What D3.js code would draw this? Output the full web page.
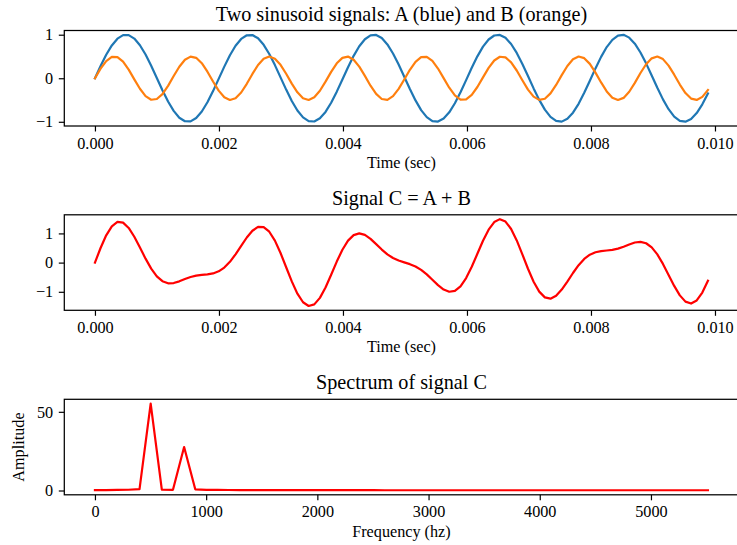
<!DOCTYPE html>
<html>
<head>
<meta charset="utf-8">
<script src="https://cdn.jsdelivr.net/npm/d3@7"></script>
<style>
  html, body { margin: 0; padding: 0; background: #fff; }
  svg { display: block; }
  text { font-family: "Liberation Serif", "Times New Roman", serif; fill: #000; }
</style>
</head>
<body>
<svg id="chart" width="737" height="545"></svg>
<script>
// Sampling: 110 samples at 11025 Hz
const sampleRate = 11025;

// Signal A: 500 Hz sinusoid, amplitude 1
const signalA = [
  0.000, 0.281, 0.540, 0.754, 0.909, 0.989, 0.990, 0.911, 0.759, 0.546,
  0.288, 0.007, -0.274, -0.534, -0.750, -0.906, -0.988, -0.991, -0.914, -0.764,
  -0.552, -0.295, -0.014, 0.267, 0.527, 0.745, 0.903, 0.987, 0.992, 0.917,
  0.768, 0.558, 0.302, 0.021, -0.261, -0.521, -0.741, -0.899, -0.986, -0.993,
  -0.920, -0.773, -0.563, -0.308, -0.028, 0.254, 0.515, 0.735, 0.896, 0.985,
  0.994, 0.923, 0.777, 0.569, 0.315, 0.036, -0.247, -0.509, -0.731, -0.893,
  -0.984, -0.995, -0.926, -0.782, -0.575, -0.322, -0.043, 0.240, 0.503, 0.726,
  0.890, 0.982, 0.995, 0.928, 0.786, 0.581, 0.329, 0.050, -0.233, -0.497,
  -0.721, -0.887, -0.981, -0.996, -0.931, -0.791, -0.587, -0.335, -0.057, 0.226,
  0.491, 0.716, 0.883, 0.979, 0.997, 0.933, 0.795, 0.592, 0.342, 0.064,
  -0.219, -0.485, -0.711, -0.880, -0.978, -0.997, -0.936, -0.799, -0.598, -0.349
];

// Signal B: 800 Hz sinusoid, amplitude 0.5
const signalB = [
  0.000, 0.220, 0.395, 0.490, 0.484, 0.380, 0.197, -0.025, -0.242, -0.410,
  -0.494, -0.477, -0.363, -0.174, 0.050, 0.264, 0.424, 0.497, 0.469, 0.345,
  0.151, -0.075, -0.285, -0.437, -0.499, -0.460, -0.327, -0.127, 0.099, 0.305,
  0.448, 0.500, 0.450, 0.308, 0.103, -0.123, -0.324, -0.459, -0.499, -0.438,
  -0.288, -0.078, 0.147, 0.343, 0.468, 0.498, 0.426, 0.267, 0.053, -0.171,
  -0.360, -0.476, -0.495, -0.412, -0.245, -0.028, 0.194, 0.377, 0.483, 0.490,
  0.397, 0.223, 0.004, -0.217, -0.393, -0.489, -0.485, -0.382, -0.201, 0.021,
  0.239, 0.408, 0.494, 0.478, 0.365, 0.178, -0.046, -0.261, -0.422, -0.497,
  -0.470, -0.348, -0.154, 0.071, 0.282, 0.435, 0.499, 0.461, 0.330, 0.130,
  -0.096, -0.302, -0.447, -0.500, -0.451, -0.310, -0.106, 0.120, 0.321, 0.457,
  0.500, 0.440, 0.290, 0.082, -0.144, -0.340, -0.467, -0.498, -0.428, -0.270
];

// Signal C: sum of A and B
const signalC = [
  0.000, 0.501, 0.935, 1.244, 1.393, 1.369, 1.187, 0.886, 0.517, 0.136,
  -0.206, -0.470, -0.637, -0.708, -0.700, -0.642, -0.564, -0.494, -0.445, -0.419,
  -0.401, -0.370, -0.299, -0.170, 0.028, 0.285, 0.576, 0.860, 1.091, 1.222,
  1.216, 1.058, 0.752, 0.329, -0.158, -0.644, -1.065, -1.358, -1.485, -1.431,
  -1.208, -0.851, -0.416, 0.035, 0.440, 0.752, 0.941, 1.002, 0.949, 0.814,
  0.634, 0.447, 0.282, 0.157, 0.070, 0.008, -0.053, -0.132, -0.248, -0.403,
  -0.587, -0.772, -0.922, -0.999, -0.968, -0.811, -0.528, -0.142, 0.302, 0.747,
  1.129, 1.390, 1.489, 1.406, 1.151, 0.759, 0.283, -0.211, -0.655, -0.994,
  -1.191, -1.235, -1.135, -0.925, -0.649, -0.356, -0.088, 0.126, 0.273, 0.356,
  0.395, 0.414, 0.436, 0.479, 0.546, 0.623, 0.689, 0.712, 0.663, 0.521,
  0.281, -0.045, -0.421, -0.798, -1.122, -1.337, -1.403, -1.297, -1.026, -0.619
];

// Magnitude spectrum of C, one value per frequency bin (0 .. Nyquist)
const spectrumC = [
  0.26, 0.28, 0.34, 0.48, 0.85, 55.2, 0.55, 0.42, 27.6, 0.78,
  0.46, 0.36, 0.31, 0.28, 0.26, 0.24, 0.23, 0.22, 0.21, 0.20,
  0.20, 0.19, 0.19, 0.18, 0.18, 0.18, 0.17, 0.17, 0.17, 0.17,
  0.17, 0.16, 0.16, 0.16, 0.16, 0.16, 0.16, 0.16, 0.16, 0.16,
  0.16, 0.16, 0.16, 0.16, 0.16, 0.16, 0.16, 0.16, 0.16, 0.16,
  0.16, 0.16, 0.16, 0.16, 0.16, 0.16
];

// Tick values
const timeTicks = [0.000, 0.002, 0.004, 0.006, 0.008, 0.010];
const signalTicks = [-1, 0, 1];
const freqTicks = [0, 1000, 2000, 3000, 4000, 5000];
const ampTicks = [0, 50];

const nSamples = signalA.length;
const times = signalA.map((_, i) => i / sampleRate);
const freqs = spectrumC.map((_, k) => k * sampleRate / nSamples);

const svg = d3.select("#chart");

const axLeft = 64.3, axWidth = 674.3, axHeight = 95.5;
const panels = [
  { top: 30.5, title: "Two sinusoid signals: A (blue) and B (orange)", xlabel: "Time (sec)" },
  { top: 214.8, title: "Signal C = A + B", xlabel: "Time (sec)" },
  { top: 399.3, title: "Spectrum of signal C", xlabel: "Frequency (hz)", ylabel: "Amplitude" }
];

// Autoscale with a 5% margin on each side
function padded(ext) {
  const m = (ext[1] - ext[0]) * 0.05;
  return [ext[0] - m, ext[1] + m];
}

const tickFont = 16.2, titleFont = 20.2, labelFont = 16.2;
const tickLen = 5.5, tickPad = 5.6;

function drawPanel(p, xDomain, yDomain, xTicks, yTicks, xFmt, yFmt, series) {
  const g = svg.append("g");
  const x = d3.scaleLinear().domain(xDomain).range([axLeft, axLeft + axWidth]);
  const y = d3.scaleLinear().domain(yDomain).range([p.top + axHeight, p.top]);

  // data lines
  series.forEach(s => {
    const line = d3.line().x((d, i) => x(s.x[i])).y(d => y(d));
    g.append("path")
      .datum(s.y)
      .attr("d", line)
      .attr("fill", "none")
      .attr("stroke", s.color)
      .attr("stroke-width", 2.2)
      .attr("stroke-linejoin", "round")
      .attr("stroke-linecap", "square");
  });

  // x axis
  const xAxis = d3.axisBottom(x).tickValues(xTicks).tickFormat(xFmt)
    .tickSizeInner(tickLen).tickSizeOuter(0).tickPadding(tickPad);
  const xg = g.append("g").attr("transform", `translate(0,${p.top + axHeight})`).call(xAxis);
  xg.select(".domain").remove();
  xg.selectAll(".tick line").attr("stroke", "#000").attr("stroke-width", 1.2);
  xg.selectAll(".tick text")
    .attr("font-family", "Liberation Serif, Times New Roman, serif")
    .attr("font-size", tickFont)
    .attr("fill", "#000");

  // y axis
  const yAxis = d3.axisLeft(y).tickValues(yTicks).tickFormat(yFmt)
    .tickSizeInner(tickLen).tickSizeOuter(0).tickPadding(tickPad);
  const yg = g.append("g").attr("transform", `translate(${axLeft},0)`).call(yAxis);
  yg.select(".domain").remove();
  yg.selectAll(".tick line").attr("stroke", "#000").attr("stroke-width", 1.2);
  yg.selectAll(".tick text")
    .attr("font-family", "Liberation Serif, Times New Roman, serif")
    .attr("font-size", tickFont)
    .attr("fill", "#000");

  // frame
  g.append("rect")
    .attr("x", axLeft).attr("y", p.top)
    .attr("width", axWidth).attr("height", axHeight)
    .attr("fill", "none").attr("stroke", "#000").attr("stroke-width", 1.25);

  const cx = axLeft + axWidth / 2;
  g.append("text")
    .attr("x", cx).attr("y", p.top - 10)
    .attr("text-anchor", "middle")
    .attr("font-size", titleFont)
    .text(p.title);

  g.append("text")
    .attr("x", cx).attr("y", p.top + axHeight + 42)
    .attr("text-anchor", "middle")
    .attr("font-size", labelFont)
    .text(p.xlabel);

  if (p.ylabel) {
    g.append("text")
      .attr("transform", `translate(24,${p.top + axHeight / 2}) rotate(-90)`)
      .attr("text-anchor", "middle")
      .attr("font-size", labelFont)
      .text(p.ylabel);
  }
}

const timeDomain = padded(d3.extent(times));
const fmtTime = d3.format(".3f");
const fmtInt = d3.format("d");

drawPanel(panels[0], timeDomain,
  padded([d3.min([...signalA, ...signalB]), d3.max([...signalA, ...signalB])]),
  timeTicks, signalTicks, fmtTime, fmtInt,
  [{ x: times, y: signalA, color: "#1f77b4" }, { x: times, y: signalB, color: "#ff7f0e" }]);

drawPanel(panels[1], timeDomain, padded(d3.extent(signalC)),
  timeTicks, signalTicks, fmtTime, fmtInt,
  [{ x: times, y: signalC, color: "#ff0000" }]);

drawPanel(panels[2], padded(d3.extent(freqs)), padded([0.03, d3.max(spectrumC)]),
  freqTicks, ampTicks, fmtInt, fmtInt,
  [{ x: freqs, y: spectrumC, color: "#ff0000" }]);
</script>
</body>
</html>
